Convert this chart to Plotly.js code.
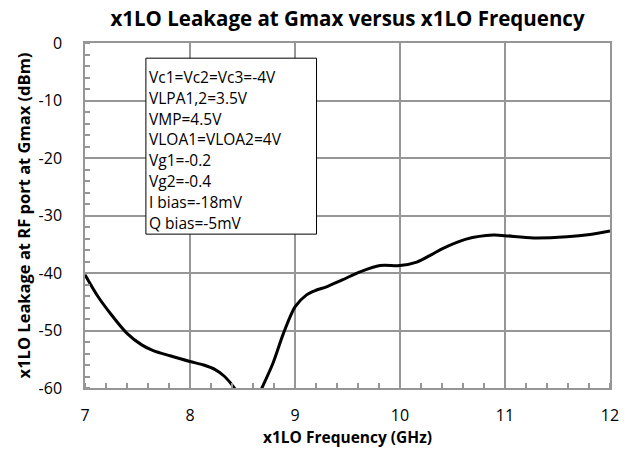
<!DOCTYPE html>
<html>
<head>
<meta charset="utf-8">
<script src="https://cdn.plot.ly/plotly-3.0.1.min.js"></script>
<style>html,body{margin:0;padding:0;background:#fff;}#chart{width:633px;height:452px;}</style>
</head>
<body>
<div id="chart"></div>
<script>
// Frequency (GHz)
const freqGHz = [7.00, 7.12, 7.24, 7.40, 7.54, 7.65, 7.81, 8.00, 8.13, 8.24, 8.33, 8.43, 8.50, 8.55, 8.62, 8.68, 8.79, 8.89, 9.00, 9.11, 9.20, 9.30, 9.45, 9.62, 9.81, 10.00, 10.16, 10.30, 10.41, 10.63, 10.89, 11.00, 11.27, 11.59, 11.81, 12.00];
// x1LO leakage at RF port at Gmax (dBm)
const leakageDbm = [-40.3, -44.0, -47.0, -50.5, -52.5, -53.5, -54.4, -55.4, -56.0, -56.8, -58.0, -60.2, -62.5, -63.5, -62.5, -60.2, -55.7, -50.5, -45.9, -43.8, -43.0, -42.4, -41.2, -39.8, -38.7, -38.7, -38.1, -36.8, -35.7, -34.1, -33.4, -33.5, -33.9, -33.7, -33.3, -32.7];
// Bias condition text box
const boxLines = ["Vc1=Vc2=Vc3=-4V", "VLPA1,2=3.5V", "VMP=4.5V", "VLOA1=VLOA2=4V", "Vg1=-0.2", "Vg2=-0.4", "I bias=-18mV", "Q bias=-5mV"];
const xTicks = [7, 8, 9, 10, 11, 12];
const yTicks = [0, -10, -20, -30, -40, -50, -60];

const font = "'Open Sans', sans-serif";
const annotations = boxLines.map((t, i) => ({
  xref: 'paper', yref: 'paper', x: 0.118, y: 1 - (33.7 + 20.9 * i) / 345,
  xanchor: 'left', yanchor: 'middle', showarrow: false, text: t,
  font: {family: font, size: 15.5, color: '#000'}
}));

const trace = {
  x: freqGHz, y: leakageDbm, type: 'scatter', mode: 'lines',
  line: {color: '#000', width: 3, shape: 'spline', smoothing: 0.8},
  showlegend: false, hoverinfo: 'skip'
};

const gridColor = 'rgb(150,150,150)';
const layout = {
  width: 633, height: 452,
  margin: {l: 85, r: 23, t: 43, b: 64},
  paper_bgcolor: '#fff', plot_bgcolor: '#fff',
  title: {text: '<b>x1LO Leakage at Gmax versus x1LO Frequency</b>', x: 0.549, xanchor: 'center', y: 0.958, yanchor: 'middle',
          font: {family: font, size: 20.5, color: '#000'}},
  xaxis: {
    range: [7, 12], tickmode: 'array', tickvals: xTicks, ticktext: xTicks.map(String),
    showgrid: true, gridcolor: gridColor, gridwidth: 1.5,
    showline: true, linecolor: gridColor, linewidth: 1.5, mirror: true,
    ticks: '', zeroline: false, ticklabelstandoff: 12,
    tickfont: {family: font, size: 16, color: '#000'},
    minor: {tickmode: 'linear', tick0: 7, dtick: 0.2, ticks: 'inside', ticklen: 5, tickwidth: 1.5, tickcolor: gridColor, showgrid: false},
    title: {text: '<b>x1LO Frequency (GHz)</b>', standoff: 6, font: {family: font, size: 15.5, color: '#000'}}
  },
  yaxis: {
    range: [-60, 0], tickmode: 'array', tickvals: yTicks, ticktext: yTicks.map(String),
    showgrid: true, gridcolor: gridColor, gridwidth: 1.5,
    showline: true, linecolor: gridColor, linewidth: 1.5, mirror: true,
    ticks: '', zeroline: false, ticklabelstandoff: 18,
    tickfont: {family: font, size: 16, color: '#000'},
    minor: {tickmode: 'linear', tick0: 0, dtick: 2, ticks: 'inside', ticklen: 5, tickwidth: 1.5, tickcolor: gridColor, showgrid: false},
    title: {text: '<b>x1LO Leakage at RF port at Gmax (dBm)</b>', standoff: 4, font: {family: font, size: 16.5, color: '#000'}}
  },
  shapes: [{
    type: 'rect', xref: 'paper', yref: 'paper', x0: 0.116, x1: 0.441, y0: 0.446, y1: 0.956,
    line: {color: '#000', width: 1}, fillcolor: '#fff', layer: 'above'
  }],
  annotations: annotations
};

Plotly.newPlot('chart', [trace], layout, {displayModeBar: false});
</script>
</body>
</html>
